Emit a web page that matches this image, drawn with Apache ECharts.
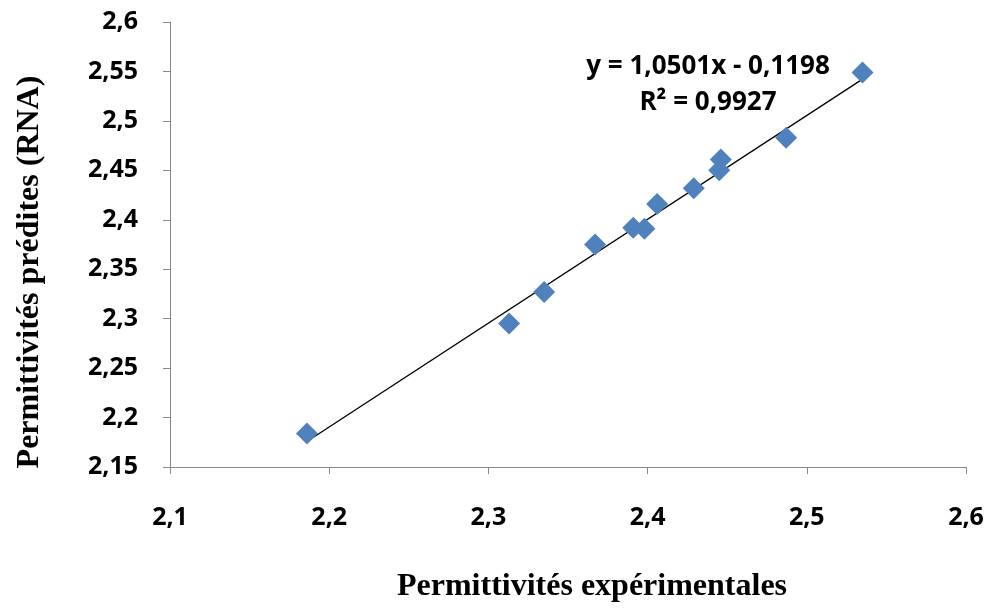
<!DOCTYPE html>
<html><head><meta charset="utf-8">
<script src="https://cdn.jsdelivr.net/npm/echarts@6/dist/echarts.min.js"></script>
<style>html,body{margin:0;padding:0;background:#fff}#c{width:989px;height:609px}</style>
</head><body><div id="c"></div>
<script>
var xExp = [2.186, 2.313, 2.335, 2.367, 2.391, 2.398, 2.406, 2.429, 2.446, 2.445, 2.487, 2.535];
var yPred = [2.184, 2.295, 2.327, 2.375, 2.392, 2.391, 2.416, 2.432, 2.461, 2.450, 2.483, 2.549];
var slope = 1.0501, intercept = -0.1198;
var eqText = ['y = 1,0501x - 0,1198', 'R² = 0,9927'];
var xTitle = 'Permittivités expérimentales';
var yTitle = 'Permittivités prédites (RNA)';

var pts = xExp.map(function(x,i){return [x, yPred[i]];});
var xmin = Math.min.apply(null,xExp), xmax = Math.max.apply(null,xExp);
var trend = [[xmin, slope*xmin+intercept],[xmax, slope*xmax+intercept]];
function fmt(v){ return String(+v.toFixed(2)).replace('.', ','); }
var labelStyle = {fontFamily:'Open Sans', fontWeight:'bold', fontSize:25, color:'#000'};
var titleFont = 'bold 32px "Liberation Serif"';
var chart = echarts.init(document.getElementById('c'));
chart.setOption({
  animation:false,
  grid:{left:170, right:23, top:22, bottom:142},
  xAxis:{type:'value', min:2.1, max:2.6, interval:0.1,
    axisLine:{show:true, lineStyle:{color:'#888'}},
    axisTick:{show:true, length:7, lineStyle:{color:'#888'}},
    splitLine:{show:false},
    axisLabel:Object.assign({margin:38, formatter:fmt}, labelStyle)},
  yAxis:{type:'value', min:2.15, max:2.6, interval:0.05,
    axisLine:{show:true, lineStyle:{color:'#888'}},
    axisTick:{show:true, length:7, lineStyle:{color:'#888'}},
    splitLine:{show:false},
    axisLabel:Object.assign({margin:32, formatter:fmt}, labelStyle)},
  graphic:[
    {type:'text', x:708, y:67, style:{text:eqText[0], fill:'#000', font:'bold 26px "Open Sans"', align:'center', verticalAlign:'middle'}},
    {type:'text', x:708, y:103, style:{text:eqText[1], fill:'#000', font:'bold 26px "Open Sans"', align:'center', verticalAlign:'middle'}},
    {type:'text', x:592, y:587, style:{text:xTitle, fill:'#000', font:titleFont, align:'center', verticalAlign:'middle'}},
    {type:'text', x:30, y:272, rotation:Math.PI/2, style:{text:yTitle, fill:'#000', font:titleFont, align:'center', verticalAlign:'middle'}}
  ],
  series:[
    {type:'line', data:trend, symbol:'none', lineStyle:{color:'#000', width:1.3}, z:1, silent:true},
    {type:'scatter', data:pts, symbol:'diamond', symbolSize:22, itemStyle:{color:'#4F81BD', opacity:1}, z:2}
  ]
});
</script></body></html>
